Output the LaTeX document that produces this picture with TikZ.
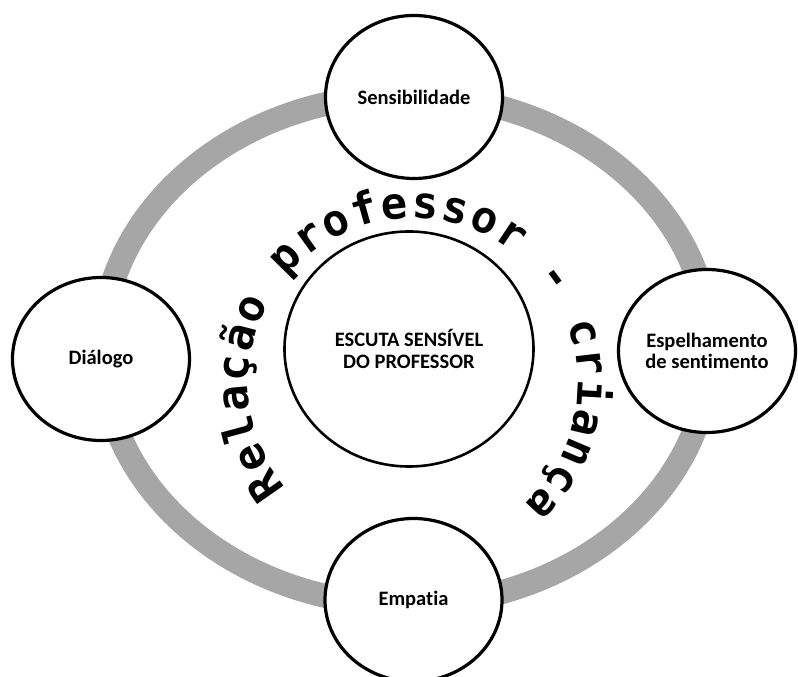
\documentclass[tikz,border=0pt]{standalone}
\usepackage{fontspec}
\setmainfont{Carlito}[Ligatures=NoCommon]
\newfontfamily\arcfont{DejaVu Sans Mono}
\usepackage{tikz}
\usetikzlibrary{shapes, decorations.text}
\definecolor{ringgray}{RGB}{166,166,166}
\tikzset{
  bubble/.style={ellipse, draw=black, line width=3.2pt, fill=white,
    minimum width=177pt, minimum height=163pt, inner sep=0pt, align=center,
    font=\fontsize{20.5}{21.5}\selectfont\bfseries},
  core/.style={bubble, line width=2.6pt, minimum width=249pt, minimum height=235pt}
}

\begin{document}
\begin{tikzpicture}[x=1pt, y=1pt]
\useasboundingbox (0,0) rectangle (798,677);
\clip (0,0) rectangle (798,663);

\coordinate (ctr) at (409,328);
\coordinate (ringctr) at (406,327);
\coordinate (arcctr) at (413,294);

\draw[ringgray, line width=24pt] (ringctr) ellipse [x radius=304, y radius=255];

\node[core] (escuta) at (ctr) {ESCUTA SENSÍVEL\\DO PROFESSOR};
\node[bubble] (sens) at (414,580) {Sensibilidade};
\node[bubble] (dialogo) at (101,318) {Diálogo};
\node[bubble] (espelho) at (707,326) {Espelhamento\\de sentimento};
\node[bubble] (empatia) at (413.5,77) {Empatia};

\path[decorate, decoration={text along path, text align=fit to path,
  text={|\arcfont\bfseries\fontsize{44}{46}\selectfont|Relação professor - criança}}]
  (arcctr) ++(219.5:165) arc[start angle=219.5, end angle=-47.5, radius=165];
\end{tikzpicture}
\end{document}
